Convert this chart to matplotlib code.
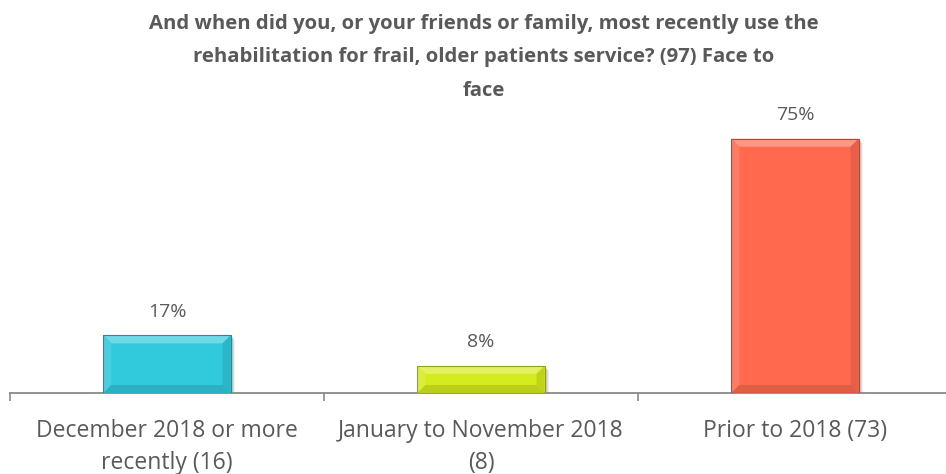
import numpy as np
import matplotlib
matplotlib.use("Agg")
import matplotlib.pyplot as plt
from matplotlib.patches import Polygon, Rectangle
from matplotlib.colors import to_rgb

plt.rcParams['font.family'] = ['Open Sans', 'DejaVu Sans']

# survey answers and share of respondents (%)
categories = ["December 2018 or more\nrecently (16)",
              "January to November 2018\n(8)",
              "Prior to 2018 (73)"]
values = [17, 8, 75]
labels = ["17%", "8%", "75%"]
colors = ["#31C9DC", "#D4EB1E", "#FF6A4F"]

title = ("And when did you, or your friends or family, most recently use the\n"
         "rehabilitation for frail, older patients service? (97) Face to\n"
         "face")

W, H = 946, 474
fig = plt.figure(figsize=(W / 100, H / 100), dpi=100)
ax = fig.add_axes([10 / W, (H - 393) / H, 942 / W, 339 / H])
ax.set_xlim(-0.5, 2.5)
ax.set_ylim(0, 100)

gray = "#595959"


def shade(c, f):
    r, g, b = to_rgb(c)
    if f > 0:
        return (r + (1 - r) * f, g + (1 - g) * f, b + (1 - b) * f)
    return (r * (1 + f), g * (1 + f), b * (1 + f))


def bevel_bar(ax, x, h, w, color, bev=8):
    to_px = ax.transData.transform
    to_data = ax.transData.inverted().transform
    (x0, y0), (x1, y1) = to_px([(x - w / 2, 0), (x + w / 2, h)])
    b = min(bev, (y1 - y0) / 2.5)

    def poly(pts, fc, **kw):
        ax.add_patch(Polygon(to_data(np.array(pts)), closed=True, facecolor=fc,
                             edgecolor="none", **kw))

    # soft drop shadow
    for i, a in enumerate([0.10, 0.08, 0.06]):
        d = 2 + i
        poly([(x0 + d, y0 - d), (x1 + d, y0 - d), (x1 + d, y1 - d), (x0 + d, y1 - d)],
             "#000000", alpha=a, zorder=1)
    poly([(x0, y0), (x1, y0), (x1, y1), (x0, y1)], color, zorder=2)
    # bevel facets
    poly([(x0, y1), (x1, y1), (x1 - b, y1 - b), (x0 + b, y1 - b)], shade(color, 0.3), zorder=3)
    poly([(x0, y0), (x0, y1), (x0 + b, y1 - b), (x0 + b, y0 + b)], shade(color, 0.12), zorder=3)
    poly([(x1, y0), (x1, y1), (x1 - b, y1 - b), (x1 - b, y0 + b)], shade(color, -0.1), zorder=3)
    poly([(x0, y0), (x1, y0), (x1 - b, y0 + b), (x0 + b, y0 + b)], shade(color, -0.12), zorder=3)
    ax.add_patch(Rectangle(to_data([(x0, y0)])[0], w, h, facecolor="none",
                           edgecolor=shade(color, -0.3), linewidth=0.8, zorder=4))


xs = np.arange(len(values))
for x, v, c, lab in zip(xs, values, colors, labels):
    bevel_bar(ax, x, v, 0.405, c)
    ax.annotate(lab, (x, v), xytext=(0, 17), textcoords="offset points",
                ha="center", va="center", fontsize=14, color=gray)

for s in ["top", "right", "left"]:
    ax.spines[s].set_visible(False)
ax.spines["bottom"].set_color("#898989")
ax.spines["bottom"].set_linewidth(1.3)
ax.set_yticks([])
ax.set_xticks([-0.5, 0.5, 1.5, 2.5])
ax.set_xticklabels([])
ax.tick_params(axis="x", length=6, width=1.2, color="#898989")
ax.set_xticks(xs, minor=True)
ax.set_xticklabels(categories, minor=True, fontsize=16.5, color=gray, linespacing=1.4)
ax.tick_params(axis="x", which="minor", length=0, pad=19)

fig.text(484 / W, 1 - 57 / H, title, ha="center", va="center", fontsize=14.6,
         fontweight="bold", color=gray, linespacing=1.9)

fig.savefig("out.png", dpi=100)
